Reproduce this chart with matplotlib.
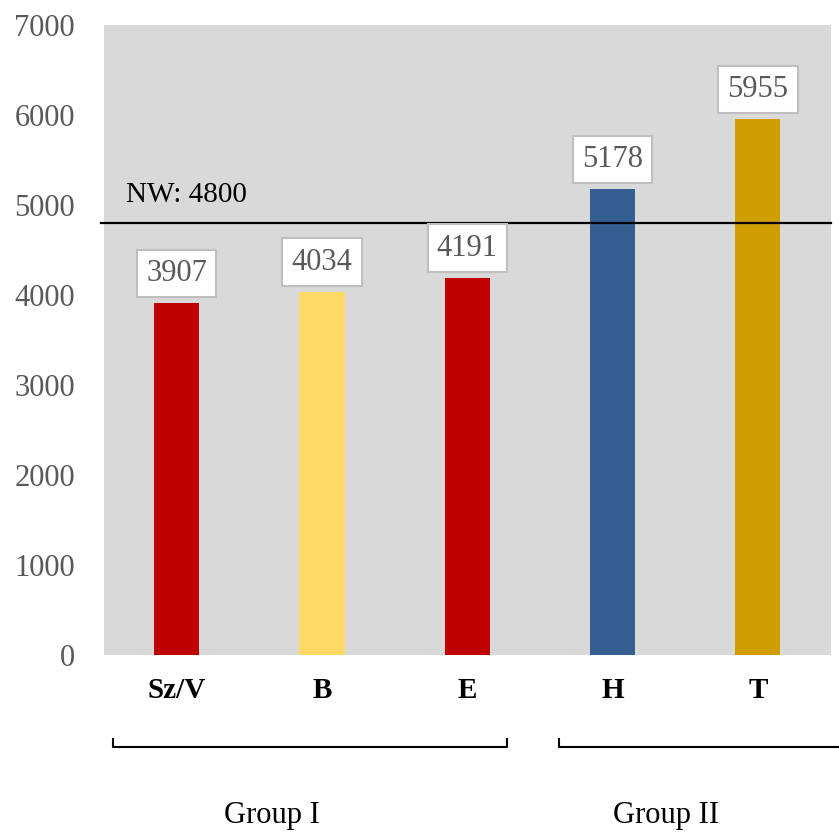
import matplotlib.pyplot as plt
import matplotlib.transforms as mtransforms

# regional values
categories = ['Sz/V', 'B', 'E', 'H', 'T']
values = [3907, 4034, 4191, 5178, 5955]
bar_colors = ['#C00000', '#FFD966', '#C00000', '#355F91', '#D09E00']
nw_value = 4800
groups = ['Group I', 'Group II']
group_spans = [(-0.44, 2.27), (2.63, 4.6)]
group_label_x = [0.655, 3.365]

plt.rcParams['font.family'] = ['Liberation Serif', 'DejaVu Serif']

fig = plt.figure(figsize=(8.39, 8.32), dpi=100)
ax = fig.add_axes([0.124, 0.2127, 0.866, 0.7573])
ax.set_facecolor('#D9D9D9')

x = list(range(len(categories)))
ax.bar(x, values, width=0.31, color=bar_colors, zorder=2)

for xi, v in zip(x, values):
    ax.annotate(str(v), (xi, v), xytext=(0, 11), textcoords='offset points',
                ha='center', va='bottom', fontsize=22, color='#595959',
                bbox=dict(boxstyle='square,pad=0.3', fc='white', ec='#BFBFBF', lw=1.5),
                zorder=4)

# reference line
ax.plot([-0.52, 4.5], [nw_value, nw_value], color='black', lw=1.6, clip_on=False, zorder=3)
ax.text(-0.35, nw_value + 170, f'NW: {nw_value}', fontsize=21, color='black', va='bottom')

ax.set_xlim(-0.5, 4.5)
ax.set_ylim(0, 7000)
ax.set_yticks(range(0, 7001, 1000))
ax.tick_params(axis='y', length=0, pad=21, labelsize=22, labelcolor='#595959')
ax.tick_params(axis='x', length=0, pad=16, labelsize=21)
ax.set_xticks(x)
ax.set_xticklabels(categories, fontweight='bold')
for s in ax.spines.values():
    s.set_visible(False)

# group brackets under the axis
trans = mtransforms.blended_transform_factory(ax.transData, ax.transAxes)
for name, (x0, x1), xc in zip(groups, group_spans, group_label_x):
    y_low, y_high = -0.146, -0.134
    ax.plot([x0, x0, x1, x1], [y_high, y_low, y_low, y_high], color='black',
            lw=1.5, transform=trans, clip_on=False)
    ax.text(xc, -0.254, name, transform=trans, ha='center', va='center', fontsize=22)

fig.savefig('out.png', dpi=100)
